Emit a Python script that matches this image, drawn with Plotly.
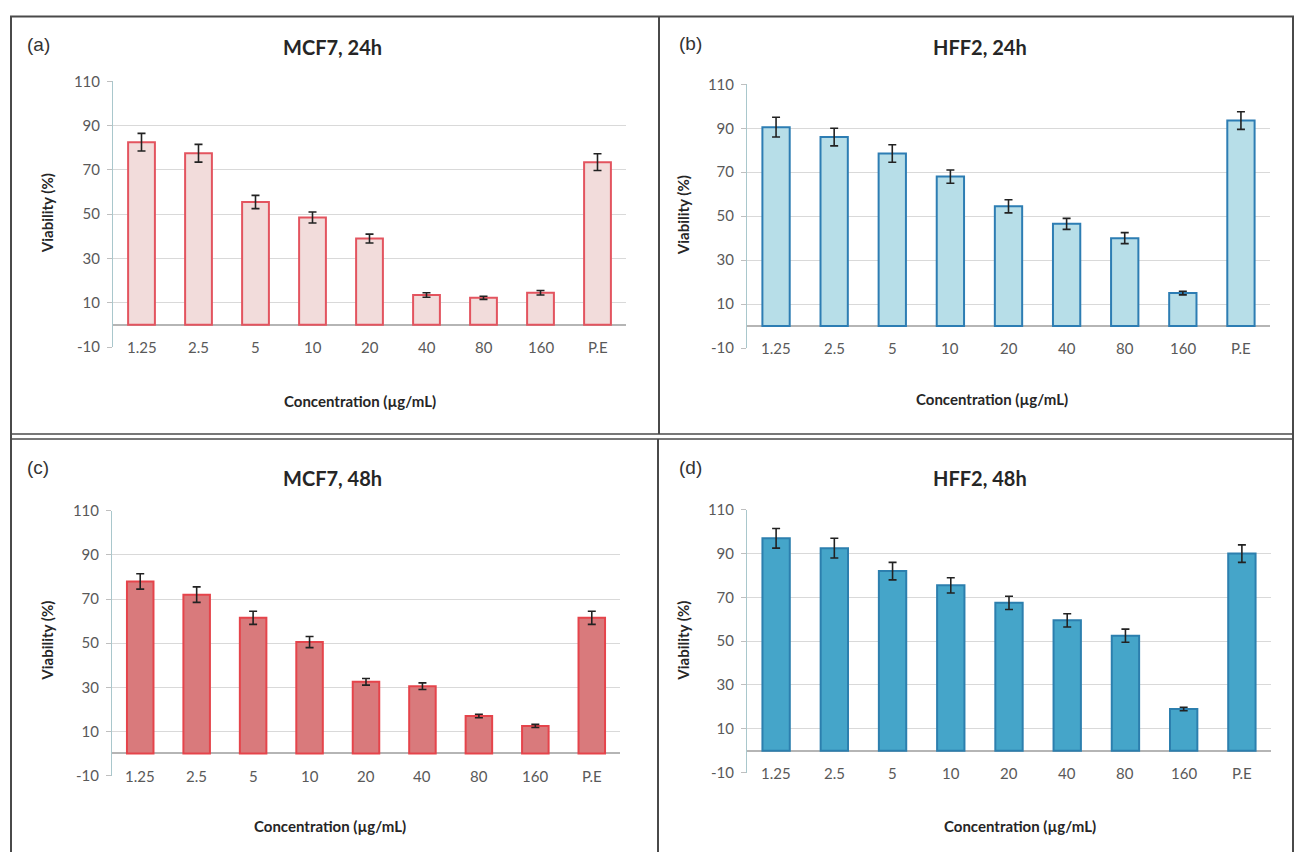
import plotly.graph_objects as go

categories = ["1.25", "2.5", "5", "10", "20", "40", "80", "160", "P.E"]

mcf7_24h = [82.5, 77.5, 55.5, 48.5, 39, 13.5, 12.2, 14.5, 73.5]
mcf7_24h_err = [4, 4, 3, 2.5, 2, 1, 0.7, 1, 3.8]

hff2_24h = [90.5, 86, 78.5, 68, 54.5, 46.5, 40, 15, 93.5]
hff2_24h_err = [4.5, 4, 4, 3, 3, 2.5, 2.5, 0.8, 4]

mcf7_48h = [78, 72, 61.5, 50.5, 32.5, 30.5, 17, 12.5, 61.5]
mcf7_48h_err = [3.5, 3.5, 3, 2.5, 1.5, 1.5, 0.8, 0.7, 3]

hff2_48h = [97, 92.5, 82, 75.5, 67.5, 59.5, 52.5, 19, 90]
hff2_48h_err = [4.5, 4.5, 4, 3.5, 3, 3, 3, 0.8, 4]

y_ticks = [-10, 10, 30, 50, 70, 90, 110]
y_tick_labels = ["-10", "10", "30", "50", "70", "90", "110"]

W, H = 1295, 852
# the photographed page appears vertically scaled by ~0.98 about its centre;
# positions below are given in target-picture pixels and pre-compensated here
SY, OYS = 0.98, 8.6


def px(x):
    return x / W


def py(y):
    return 1 - ((y - OYS) / SY) / H


panels = [
    dict(tag="(a)", title="MCF7, 24h", vals=mcf7_24h, err=mcf7_24h_err,
         fill="#F2DCDB", line="#E3545F",
         xd=(113, 626), yd=(80, 346), title_xy=(333, 46), tag_xy=(38, 43),
         xt_xy=(360, 400), yt_xy=(47, 212)),
    dict(tag="(b)", title="HFF2, 24h", vals=hff2_24h, err=hff2_24h_err,
         fill="#B7DEE8", line="#2D7DB3",
         xd=(747, 1270), yd=(83, 347), title_xy=(980, 46), tag_xy=(690, 42),
         xt_xy=(992, 398), yt_xy=(683, 214)),
    dict(tag="(c)", title="MCF7, 48h", vals=mcf7_48h, err=mcf7_48h_err,
         fill="#D97A7C", line="#E5444B",
         xd=(112, 620), yd=(510, 775), title_xy=(333, 477), tag_xy=(38, 467),
         xt_xy=(330, 826), yt_xy=(47, 640)),
    dict(tag="(d)", title="HFF2, 48h", vals=hff2_48h, err=hff2_48h_err,
         fill="#45A5C9", line="#2C7FAE",
         xd=(747, 1271), yd=(509, 772), title_xy=(980, 477), tag_xy=(690, 467),
         xt_xy=(1020, 826), yt_xy=(683, 640)),
]

FONT = "Lato, Carlito, Open Sans, sans-serif"
fig = go.Figure()
annotations = []
shapes = []
tick_font = dict(family=FONT, size=15, color="#595959")

for i, p in enumerate(panels):
    n = "" if i == 0 else str(i + 1)
    xa, ya = "x" + n, "y" + n
    fig.add_trace(go.Bar(
        x=categories, y=p["vals"], xaxis=xa, yaxis=ya, width=0.47,
        marker=dict(color=p["fill"], line=dict(color=p["line"], width=2)),
        error_y=dict(type="data", array=p["err"], color="#222222", thickness=1.6, width=4),
        showlegend=False,
    ))
    fig.update_layout(**{
        "xaxis" + n: dict(
            domain=[px(p["xd"][0]), px(p["xd"][1])], anchor=ya,
            type="category", range=[-0.5, len(categories) - 0.5],
            showticklabels=False, showgrid=False, showline=False, zeroline=False,
        ),
        "yaxis" + n: dict(
            domain=[py(p["yd"][1]), py(p["yd"][0])], anchor=xa,
            range=[-10, 110], tickvals=y_ticks, ticktext=y_tick_labels,
            showgrid=True, gridcolor="#D9D9D9",
            gridwidth=1, zeroline=True, zerolinecolor="#B5B5B5", zerolinewidth=1.5,
            showline=True, linecolor="#A9C7CC", linewidth=1,
            ticks="outside", ticklen=5, tickcolor="#BFBFBF",
            tickfont=tick_font, ticklabelstandoff=4,
        ),
    })
    for j, c in enumerate(categories):
        annotations.append(dict(
            x=j, y=-10, xref=xa, yref=ya, text=c, showarrow=False,
            font=tick_font, bgcolor="white", xanchor="center", yanchor="middle",
            borderpad=0,
        ))
    common = dict(xref="paper", yref="paper", showarrow=False,
                  xanchor="center", yanchor="middle")
    annotations.append(dict(
        x=px(p["title_xy"][0]), y=py(p["title_xy"][1]),
        text="<b>" + p["title"] + "</b>",
        font=dict(family=FONT, size=20, color="#262626"), **common,
    ))
    annotations.append(dict(
        x=px(p["tag_xy"][0]), y=py(p["tag_xy"][1]), text=p["tag"],
        font=dict(family="Liberation Sans, Arial, sans-serif", size=19, color="#333333"),
        **common,
    ))
    annotations.append(dict(
        x=px(p["xt_xy"][0]), y=py(p["xt_xy"][1]),
        text="<b>Concentration (µg/mL)</b>",
        font=dict(family=FONT, size=15, color="#262626"), **common,
    ))
    annotations.append(dict(
        x=px(p["yt_xy"][0]), y=py(p["yt_xy"][1]),
        text="<b>Viability (%)</b>", textangle=-90,
        font=dict(family=FONT, size=15, color="#262626"), **common,
    ))

frame_col = "#4A4A4A"
shapes.append(dict(type="rect", xref="paper", yref="paper",
                   x0=px(11), x1=px(1293), y0=py(855), y1=py(15),
                   line=dict(color=frame_col, width=2)))
shapes.append(dict(type="line", xref="paper", yref="paper",
                   x0=px(659), x1=px(659), y0=py(433), y1=py(15),
                   line=dict(color=frame_col, width=2)))
shapes.append(dict(type="line", xref="paper", yref="paper",
                   x0=px(658), x1=px(658), y0=py(855), y1=py(438),
                   line=dict(color=frame_col, width=2)))
for yy in (433, 438):
    shapes.append(dict(type="line", xref="paper", yref="paper",
                       x0=px(11), x1=px(1293), y0=py(yy), y1=py(yy),
                       line=dict(color=frame_col, width=1.5)))

fig.update_layout(
    width=W, height=H, margin=dict(l=0, r=0, t=0, b=0),
    paper_bgcolor="white", plot_bgcolor="white",
    annotations=annotations, shapes=shapes,
)

fig.write_html(
    "out.html",
    config={"displayModeBar": False},
    post_script=(
        "document.body.style.margin='0';"
        "document.body.style.overflow='hidden';"
        "document.documentElement.style.overflow='hidden';"
    ),
)
